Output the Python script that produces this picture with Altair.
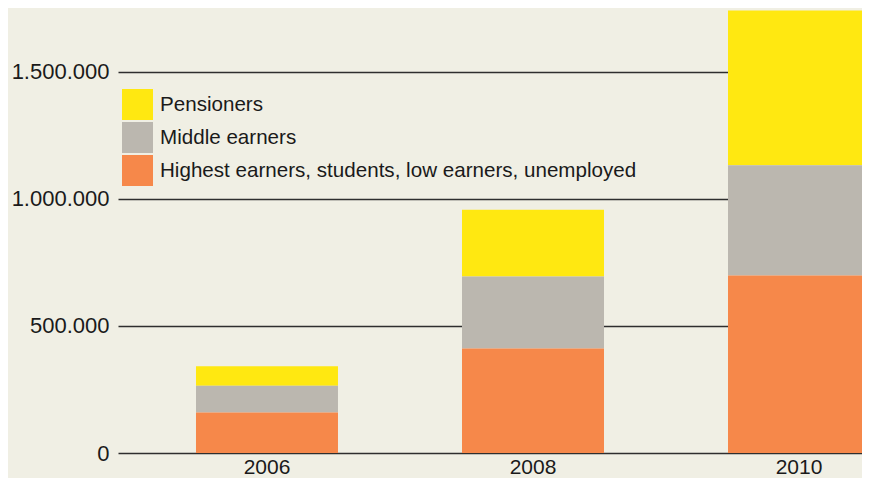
import altair as alt
import pandas as pd

years = ["2006", "2008", "2010"]
groups = ["Pensioners", "Middle earners", "Highest earners, students, low earners, unemployed"]
stack_rank = [2, 1, 0]
highest = [159000, 411000, 698000]
middle = [105000, 283000, 434000]
pensioners = [77000, 263000, 608000]
colors = ["#FFE811", "#BBB7AF", "#F6884A"]
y_ticks = [0, 500000, 1000000, 1500000]

rows = []
for i, yr in enumerate(years):
    for g, vals, r in zip(groups, [pensioners, middle, highest], stack_rank):
        rows.append({"year": yr, "group": g, "value": vals[i], "rank": r})
df = pd.DataFrame(rows)

FONT = "Liberation Sans"

chart = alt.Chart(df).mark_bar().encode(
    x=alt.X("year:N", title=None,
            scale=alt.Scale(paddingInner=0.4662, paddingOuter=0.1466, align=1, range=[0, 752]),
            axis=alt.Axis(labelAngle=0, domain=False, ticks=False, labelPadding=3,
                          labelFontSize=21, labelFont=FONT, labelColor="#1a1a1a")),
    y=alt.Y("value:Q", title=None, stack="zero",
            scale=alt.Scale(domain=[0, 1750000], nice=False, zero=True),
            axis=alt.Axis(values=y_ticks, domain=False, ticks=False, labelPadding=9,
                          labelFontSize=22, labelFont=FONT, labelColor="#1a1a1a",
                          gridColor="#2e2e2e", gridWidth=1.5, gridOpacity=1,
                          labelExpr="replace(format(datum.value, ','), /,/g, '.')")),
    color=alt.Color("group:N", title=None,
                    scale=alt.Scale(domain=groups, range=colors),
                    legend=alt.Legend(orient="none", legendX=4, legendY=81,
                                      symbolType="square", symbolSize=961,
                                      symbolStrokeWidth=0, symbolOpacity=1,
                                      labelFontSize=20.6, labelFont=FONT, labelColor="#1a1a1a",
                                      labelOffset=7, rowPadding=2, padding=0,
                                      labelLimit=600)),
    order=alt.Order("rank:Q", sort="ascending"),
).properties(
    width=744, height=445,
    background="#F0EFE4",
    autosize=alt.AutoSizeParams(type="none"),
    padding={"left": 110, "top": 0, "right": 0, "bottom": 25},
).configure_view(strokeWidth=0)

chart.save("out.html", embed_options={"renderer": "svg", "actions": False})
